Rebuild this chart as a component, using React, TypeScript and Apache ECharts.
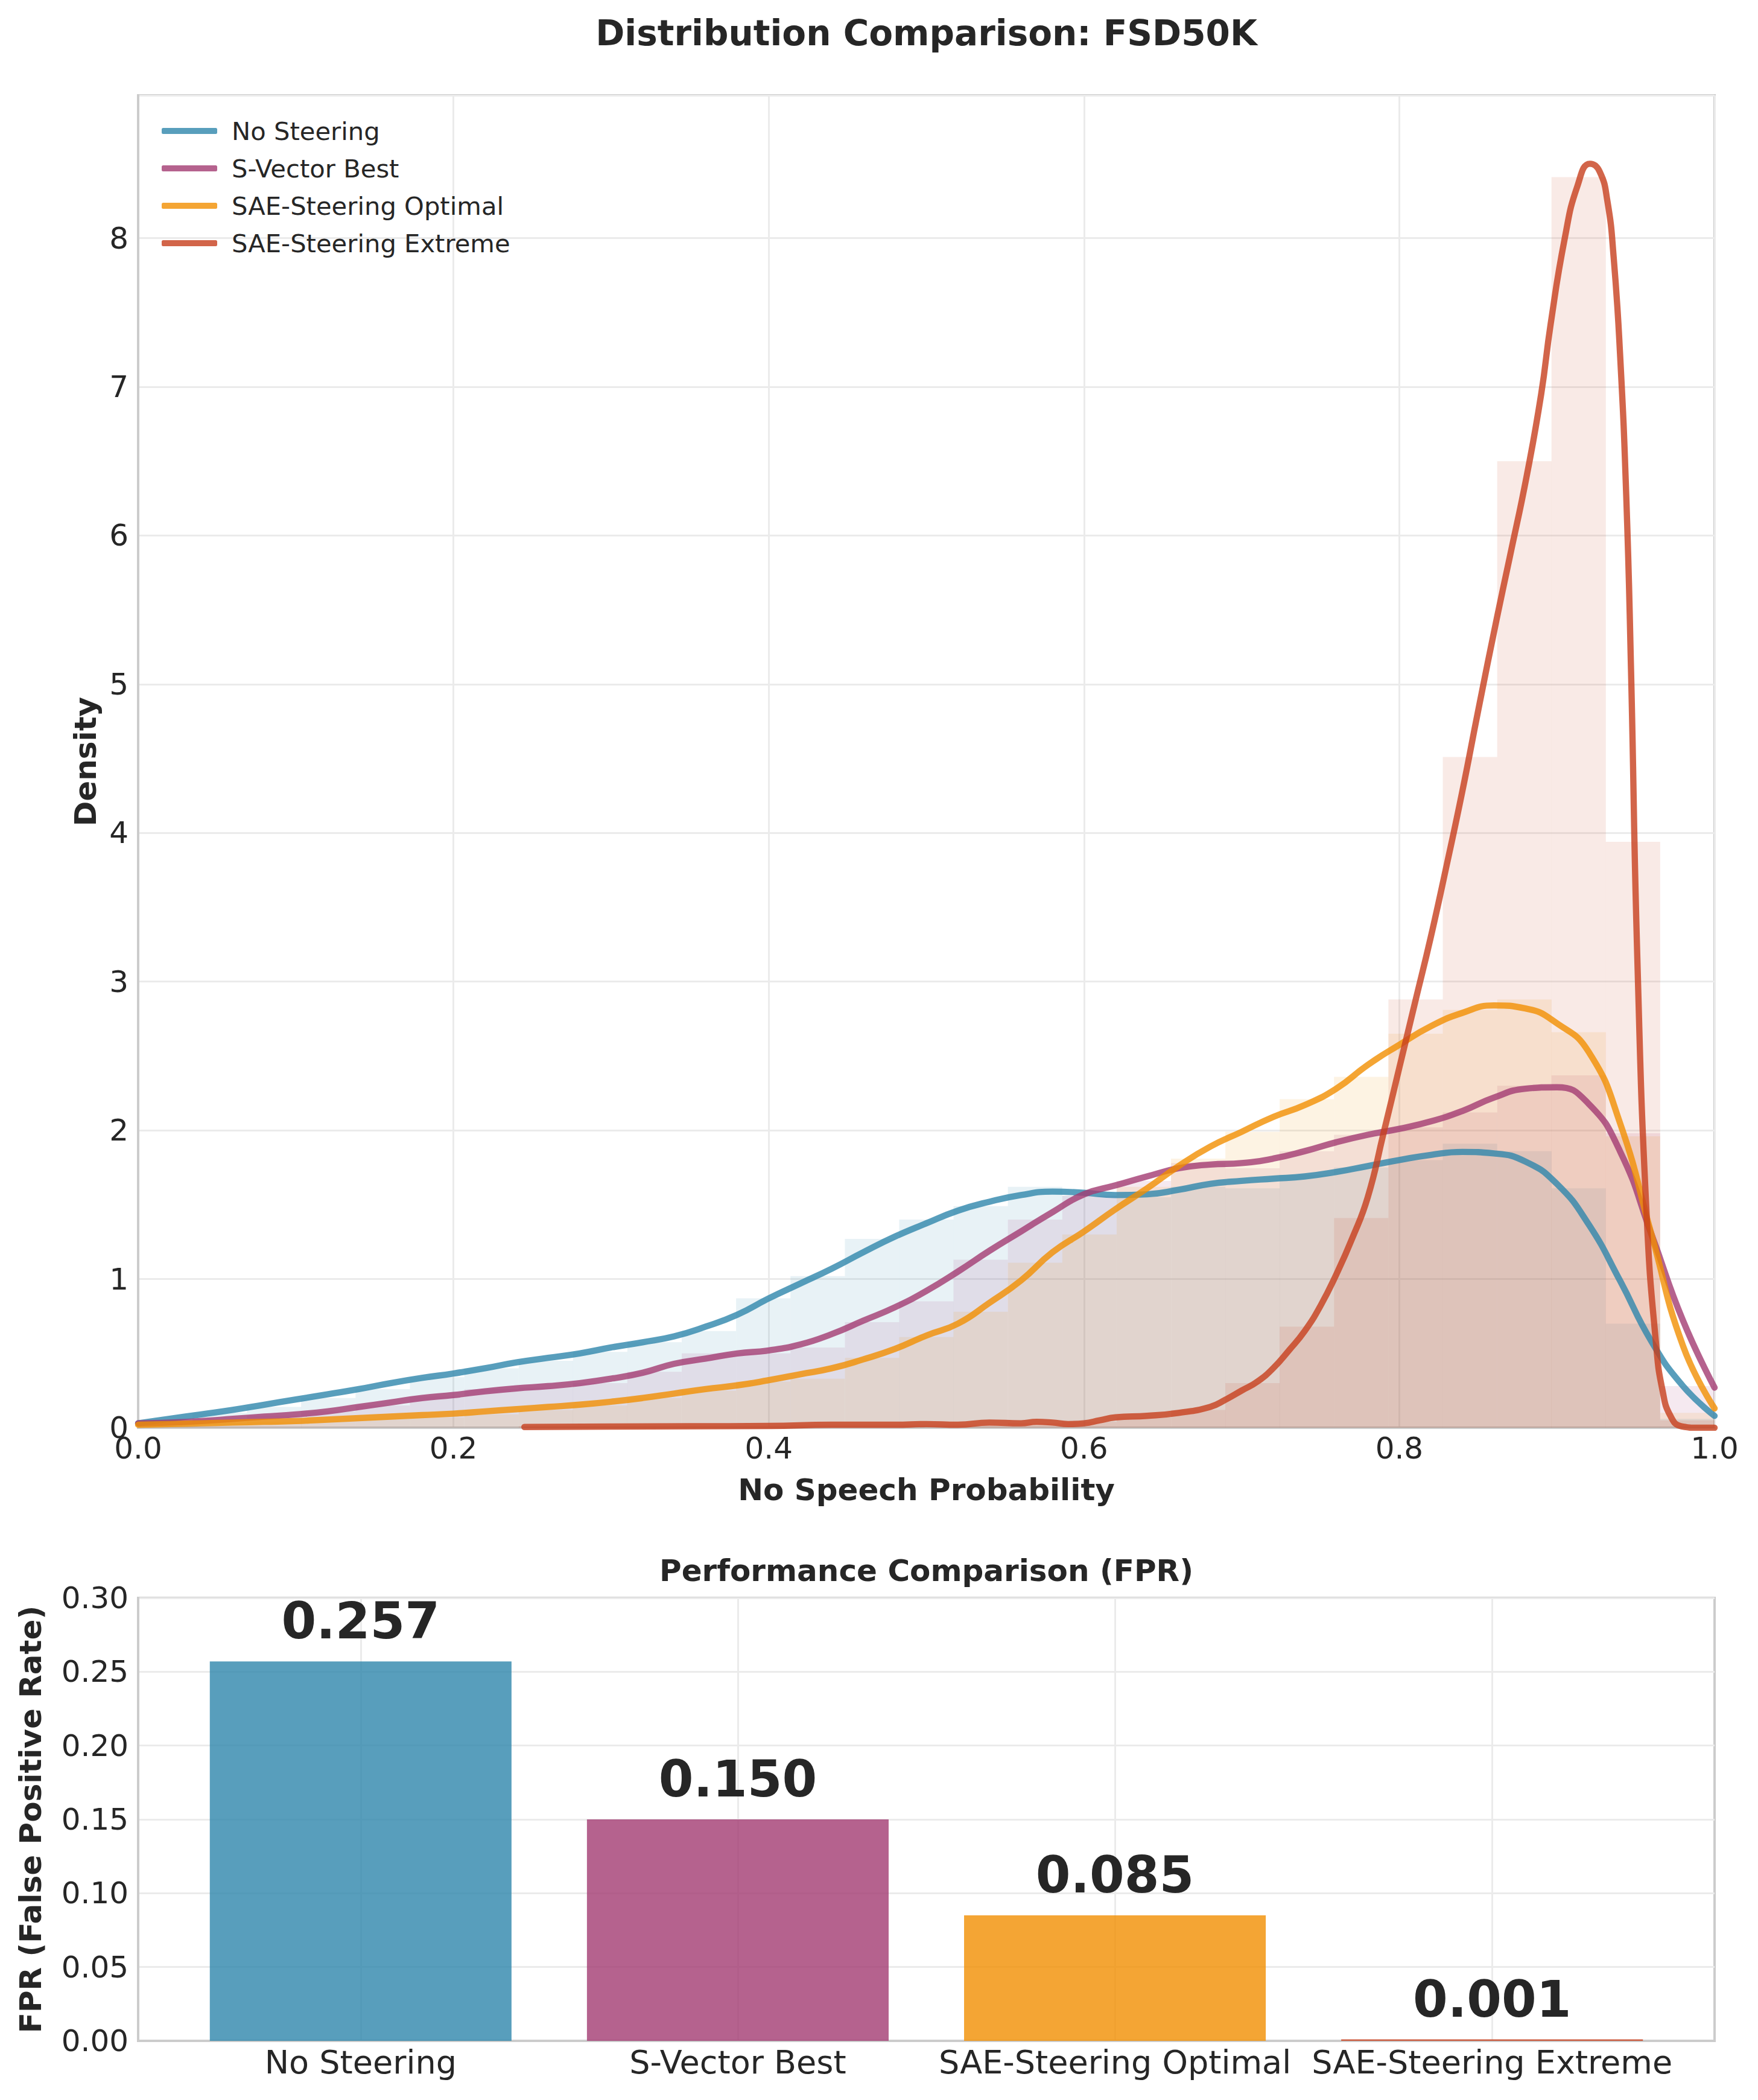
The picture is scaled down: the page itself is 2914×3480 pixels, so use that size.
import React, { useEffect, useRef } from "react";
import * as echarts from "echarts";

const FONT = "DejaVu Sans";
const W = 2914;
const H = 3480;
const PLOT_LEFT = 229;
const PLOT_WIDTH = 2613;

// ---------- data ----------
const seriesNames = ["No Steering", "S-Vector Best", "SAE-Steering Optimal", "SAE-Steering Extreme"];
const baseRGB = [
  [46, 134, 171],
  [162, 59, 114],
  [241, 143, 1],
  [199, 62, 29],
];

// histogram bin edges (29 bins on [0, 1])
const binEdges = [
  0, 0.0345, 0.069, 0.1034, 0.1379, 0.1724, 0.2069, 0.2414, 0.2759, 0.3103, 0.3448, 0.3793,
  0.4138, 0.4483, 0.4828, 0.5172, 0.5517, 0.5862, 0.6207, 0.6552, 0.6897, 0.7241, 0.7586,
  0.7931, 0.8276, 0.8621, 0.8966, 0.931, 0.9655, 1.0,
];

const histNoSteering = [0.05, 0.1, 0.14, 0.2, 0.26, 0.34, 0.4, 0.45, 0.51, 0.575, 0.65, 0.87, 1.02, 1.27, 1.4, 1.49, 1.62, 1.56, 1.55, 1.62, 1.61, 1.7, 1.75, 1.8, 1.91, 1.86, 1.61, 0.7, 0.06];
const histSVector = [0.03, 0.06, 0.08, 0.11, 0.15, 0.21, 0.26, 0.27, 0.3, 0.376, 0.5, 0.5, 0.54, 0.71, 0.85, 1.13, 1.4, 1.56, 1.66, 1.78, 1.745, 1.86, 1.97, 2.02, 2.12, 2.3, 2.37, 1.98, 0.28];
const histSAEOptimal = [0.02, 0.03, 0.04, 0.05, 0.06, 0.07, 0.09, 0.12, 0.15, 0.2, 0.25, 0.31, 0.33, 0.47, 0.61, 0.78, 1.11, 1.3, 1.62, 1.81, 1.99, 2.21, 2.36, 2.65, 2.81, 2.88, 2.66, 1.96, 0.1];
const histSAEExtreme = [0, 0, 0, 0, 0, 0, 0, 0.01, 0.01, 0.01, 0.01, 0.01, 0.02, 0.02, 0.02, 0.02, 0.03, 0.04, 0.07, 0.12, 0.3, 0.68, 1.41, 2.88, 4.51, 6.5, 8.41, 3.94, 0.05];

// KDE curves
const kdeX = [
  0, 0.02, 0.04, 0.06, 0.08, 0.1, 0.12, 0.14, 0.16, 0.18, 0.2, 0.22, 0.24, 0.26, 0.28, 0.3, 0.32,
  0.34, 0.36, 0.38, 0.4, 0.42, 0.44, 0.46, 0.48, 0.5, 0.52, 0.54, 0.56, 0.58, 0.6, 0.62, 0.64, 0.66,
  0.68, 0.7, 0.72, 0.74, 0.76, 0.78, 0.8, 0.82, 0.84, 0.86, 0.88, 0.9, 0.92, 0.94, 0.96, 0.98, 1.0,
];
const kdeNoSteering = [0.03, 0.06, 0.09, 0.12, 0.155, 0.19, 0.225, 0.26, 0.3, 0.335, 0.365, 0.4, 0.44, 0.47, 0.5, 0.54, 0.575, 0.615, 0.68, 0.76, 0.87, 0.97, 1.07, 1.18, 1.285, 1.375, 1.46, 1.52, 1.565, 1.588, 1.58, 1.565, 1.57, 1.6, 1.64, 1.66, 1.675, 1.69, 1.72, 1.76, 1.8, 1.835, 1.855, 1.845, 1.79, 1.64, 1.37, 0.99, 0.58, 0.28, 0.08];
const kdeSVector = [0.03, 0.035, 0.045, 0.06, 0.075, 0.09, 0.11, 0.14, 0.17, 0.2, 0.22, 0.245, 0.265, 0.28, 0.3, 0.33, 0.37, 0.43, 0.465, 0.5, 0.52, 0.56, 0.63, 0.72, 0.81, 0.92, 1.05, 1.19, 1.32, 1.45, 1.57, 1.63, 1.69, 1.745, 1.77, 1.78, 1.81, 1.86, 1.92, 1.97, 2.01, 2.06, 2.13, 2.22, 2.28, 2.29, 2.18, 1.86, 1.3, 0.72, 0.27];
const kdeSAEOptimal = [0.02, 0.025, 0.03, 0.035, 0.04, 0.045, 0.055, 0.065, 0.075, 0.085, 0.095, 0.11, 0.125, 0.14, 0.155, 0.175, 0.2, 0.23, 0.26, 0.285, 0.32, 0.36, 0.4, 0.46, 0.53, 0.62, 0.7, 0.84, 0.99, 1.18, 1.32, 1.47, 1.61, 1.76, 1.89, 1.99, 2.09, 2.17, 2.28, 2.44, 2.575, 2.7, 2.79, 2.84, 2.82, 2.72, 2.53, 2.05, 1.3, 0.55, 0.13];
const kdeExtremeX = [0.245, 0.3, 0.35, 0.4, 0.44, 0.48, 0.5, 0.52, 0.54, 0.56, 0.57, 0.58, 0.59, 0.6, 0.61, 0.62, 0.64, 0.66, 0.68, 0.69, 0.7, 0.71, 0.72, 0.73, 0.74, 0.75, 0.76, 0.77, 0.78, 0.79, 0.8, 0.81, 0.82, 0.83, 0.84, 0.85, 0.862, 0.87, 0.881, 0.89, 0.896, 0.905, 0.913, 0.921, 0.927, 0.932, 0.936, 0.94, 0.944, 0.947, 0.951, 0.957, 0.963, 0.967, 0.972, 0.979, 0.99, 1.0];
const kdeExtremeY = [0.005, 0.008, 0.01, 0.012, 0.02, 0.02, 0.025, 0.02, 0.035, 0.03, 0.04, 0.035, 0.025, 0.03, 0.05, 0.07, 0.08, 0.1, 0.14, 0.19, 0.25, 0.31, 0.4, 0.52, 0.65, 0.82, 1.03, 1.27, 1.55, 1.98, 2.42, 2.86, 3.3, 3.78, 4.28, 4.82, 5.45, 5.85, 6.41, 6.95, 7.42, 8.0, 8.35, 8.5, 8.45, 8.25, 7.87, 7.23, 6.26, 5.1, 3.16, 1.41, 0.55, 0.25, 0.08, 0.01, 0, 0];

// FPR bars
const fprCategories = ["No Steering", "S-Vector Best", "SAE-Steering Optimal", "SAE-Steering Extreme"];
const fprValues = [0.257, 0.15, 0.085, 0.001];

// ---------- option ----------
const rgba = (i: number, a: number) => `rgba(${baseRGB[i][0]},${baseRGB[i][1]},${baseRGB[i][2]},${a})`;

const hists = [histNoSteering, histSVector, histSAEOptimal, histSAEExtreme];
const kdeCurves = [
  kdeX.map((x, j) => [x, kdeNoSteering[j]]),
  kdeX.map((x, j) => [x, kdeSVector[j]]),
  kdeX.map((x, j) => [x, kdeSAEOptimal[j]]),
  kdeExtremeX.map((x, j) => [x, kdeExtremeY[j]]),
];
const binCenters = binEdges.slice(0, -1).map((e, k) => (e + binEdges[k + 1]) / 2);
const binWidthPx = PLOT_WIDTH / (binEdges.length - 1);

const BAR_MIN = -0.59;
const BAR_MAX = 3.59;
const barWidthPx = (0.8 / (BAR_MAX - BAR_MIN)) * PLOT_WIDTH;

const gridLine = { show: true, lineStyle: { color: "#ebebeb", width: 3 } };
const axisLineStyle = { show: true, onZero: false, lineStyle: { color: "#cccccc", width: 4 } };
const tickLabel = { fontSize: 50, color: "#262626", fontFamily: FONT };
const axisName = { fontSize: 50, fontWeight: "bold", color: "#262626", fontFamily: FONT };

const histSeries = hists.map((h, i) => ({
  type: "bar",
  name: seriesNames[i] + " (hist)",
  xAxisIndex: 0,
  yAxisIndex: 0,
  data: binCenters.map((c, k) => [c, h[k]]),
  barWidth: binWidthPx,
  barGap: "-100%",
  itemStyle: { color: rgba(i, 0.11) },
  silent: true,
  z: 2,
}));

const kdeSeries = kdeCurves.map((d, i) => ({
  type: "line",
  name: seriesNames[i],
  xAxisIndex: 0,
  yAxisIndex: 0,
  data: d,
  symbol: "none",
  smooth: 0.5,
  lineStyle: { width: 10.4, color: rgba(i, 0.8), cap: "round", join: "round" },
  itemStyle: { color: rgba(i, 0.8) },
  silent: true,
  z: 3,
}));

const option: any = {
  animation: false,
  backgroundColor: "#ffffff",
  textStyle: { fontFamily: FONT },
  graphic: [
    {
      type: "text",
      x: PLOT_LEFT + PLOT_WIDTH / 2,
      y: 26,
      style: {
        text: "Distribution Comparison: FSD50K",
        fontSize: 58,
        fontWeight: "bold",
        fontFamily: FONT,
        fill: "#262626",
        align: "center",
        verticalAlign: "top",
      },
    },
    {
      type: "text",
      x: PLOT_LEFT + PLOT_WIDTH / 2,
      y: 2578,
      style: {
        text: "Performance Comparison (FPR)",
        fontSize: 50,
        fontWeight: "bold",
        fontFamily: FONT,
        fill: "#262626",
        align: "center",
        verticalAlign: "top",
      },
    },
  ],
  grid: [
    { left: PLOT_LEFT, top: 158, width: PLOT_WIDTH, height: 2208, show: true, borderColor: "#cccccc", borderWidth: 4, outerBoundsMode: "none" },
    { left: PLOT_LEFT, top: 2648, width: PLOT_WIDTH, height: 734, show: true, borderColor: "#cccccc", borderWidth: 4, outerBoundsMode: "none" },
  ],
  legend: {
    data: seriesNames,
    orient: "vertical",
    left: 263,
    top: 187,
    icon: "roundRect",
    itemWidth: 92,
    itemHeight: 10,
    itemGap: 12,
    selectedMode: false,
    textStyle: { fontSize: 41.7, color: "#262626", fontFamily: FONT, lineHeight: 50, padding: [0, 0, 0, 19] },
  },
  xAxis: [
    {
      type: "value",
      gridIndex: 0,
      min: 0,
      max: 1,
      interval: 0.2,
      name: "No Speech Probability",
      nameLocation: "middle",
      nameGap: 78,
      nameTextStyle: axisName,
      axisLine: axisLineStyle,
      axisTick: { show: false },
      axisLabel: { ...tickLabel, margin: 9, formatter: (v: number) => v.toFixed(1) },
      splitLine: gridLine,
    },
    {
      type: "value",
      gridIndex: 1,
      min: BAR_MIN,
      max: BAR_MAX,
      axisLine: axisLineStyle,
      axisTick: { show: false, customValues: [0, 1, 2, 3] },
      axisLabel: {
        ...tickLabel,
        fontSize: 54,
        margin: 8,
        customValues: [0, 1, 2, 3],
        formatter: (v: number) => fprCategories[Math.round(v)] ?? "",
      },
      splitLine: gridLine,
    },
  ],
  yAxis: [
    {
      type: "value",
      gridIndex: 0,
      min: 0,
      max: 8.96,
      interval: 1,
      name: "Density",
      nameLocation: "middle",
      nameGap: 62,
      nameTextStyle: axisName,
      axisLine: axisLineStyle,
      axisTick: { show: false },
      axisLabel: { ...tickLabel, margin: 16, showMaxLabel: false, formatter: (v: number) => String(Math.round(v)) },
      splitLine: gridLine,
    },
    {
      type: "value",
      gridIndex: 1,
      min: 0,
      max: 0.3,
      interval: 0.05,
      name: "FPR (False Positive Rate)",
      nameLocation: "middle",
      nameGap: 153,
      nameTextStyle: axisName,
      axisLine: axisLineStyle,
      axisTick: { show: false },
      axisLabel: { ...tickLabel, margin: 16, formatter: (v: number) => v.toFixed(2) },
      splitLine: gridLine,
    },
  ],
  series: [
    ...histSeries,
    ...kdeSeries,
    {
      type: "bar",
      name: "FPR",
      xAxisIndex: 1,
      yAxisIndex: 1,
      data: fprValues.map((v, i) => ({ value: [i, v], itemStyle: { color: rgba(i, 0.8) } })),
      barWidth: barWidthPx,
      silent: true,
      z: 3,
      label: {
        show: true,
        position: "top",
        distance: 25,
        fontSize: 83,
        fontWeight: "bold",
        color: "#262626",
        fontFamily: FONT,
        formatter: (p: any) => Number(p.value[1]).toFixed(3),
      },
    },
  ],
};

export default function App() {
  const ref = useRef<HTMLDivElement>(null);
  useEffect(() => {
    if (!ref.current) return;
    const chart = echarts.init(ref.current, undefined, { renderer: "svg", width: W, height: H });
    chart.setOption(option);
    return () => chart.dispose();
  }, []);
  return <div ref={ref} style={{ position: "absolute", left: 0, top: 0, width: W, height: H }} />;
}
